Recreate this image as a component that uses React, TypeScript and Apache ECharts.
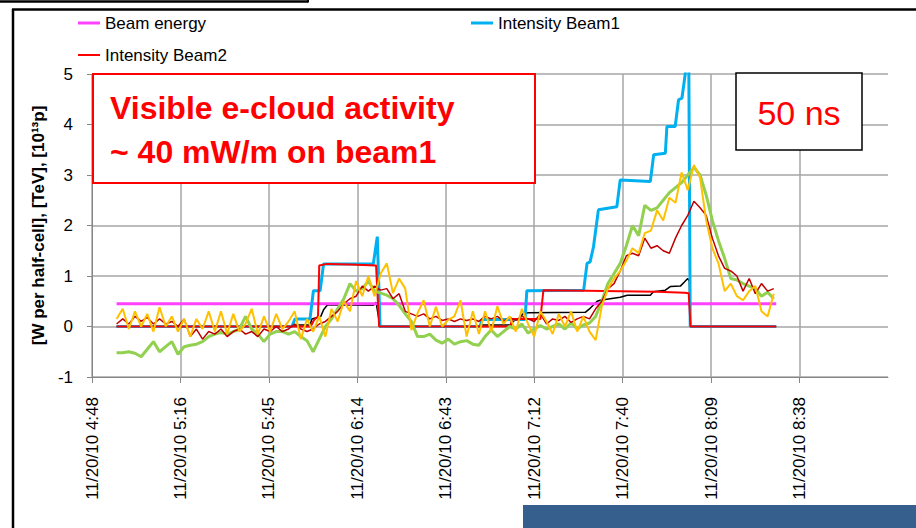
import React, { useEffect, useRef } from "react";
import * as echarts from "echarts";

// Time in minutes after midnight (11/20/10)
const times = [
  296, 298, 300, 302, 304, 306, 308, 310, 312, 314,
  316, 318, 320, 322, 324, 326, 328, 330, 332, 334,
  336, 338, 340, 342, 344, 346, 348, 350, 352, 354,
  356, 358, 360, 362, 364, 366, 368, 370, 372, 374,
  376, 378, 380, 382, 384, 386, 388, 390, 392, 394,
  396, 398, 400, 402, 404, 406, 408, 410, 412, 414,
  416, 418, 420, 422, 424, 426, 428, 430, 432, 434,
  436, 438, 440, 442, 444, 446, 448, 450, 452, 454,
  456, 458, 460, 462, 464, 466, 468, 470, 472, 474,
  476, 478, 480, 482, 484, 486, 488, 490, 492, 494,
  496, 498, 500, 502, 504, 506, 508, 510,
];

const greenValues = [
  -0.52, -0.52, -0.5, -0.53, -0.6, -0.45, -0.3, -0.5, -0.4, -0.3,
  -0.55, -0.4, -0.37, -0.35, -0.3, -0.2, -0.15, -0.12, -0.15, -0.1,
  -0.05, 0.2, -0.05, -0.15, -0.3, -0.15, -0.1, -0.1, -0.15, -0.1,
  -0.2, -0.28, -0.5, -0.25, 0.0, 0.15, 0.35, 0.55, 0.85, 0.7,
  0.75, 0.9, 0.7, 0.66, 0.62, 0.55, 0.42, 0.25, 0.1, -0.2,
  -0.2, -0.15, -0.27, -0.33, -0.25, -0.35, -0.3, -0.28, -0.35, -0.37,
  -0.2, -0.07, -0.2, -0.1, 0.0, -0.05, 0.05, -0.13, -0.05, 0.02,
  -0.05, 0.0, 0.05, -0.05, 0.07, -0.05, 0.03, 0.07, 0.2, 0.5,
  0.85, 1.05, 1.25, 1.6, 2.0, 1.8, 2.4, 2.3, 2.35, 2.5,
  2.65, 2.75, 2.85, 3.0, 3.15, 3.0, 2.6, 2.1, 1.7, 1.35,
  0.95, 0.92, 0.85, 0.8, 0.75, 0.6, 0.68, 0.55,
];

const yellowValues = [
  0.15, 0.35, -0.05, 0.3, 0.0, 0.25, -0.1, 0.38, 0.0, 0.2,
  -0.1, 0.15, -0.2, 0.15, -0.05, 0.3, -0.1, 0.3, -0.15, 0.25,
  -0.1, 0.05, 0.35, -0.15, 0.2, -0.1, 0.25, -0.05, 0.1, 0.3,
  -0.25, 0.15, -0.1, 0.2, -0.2, 0.35, 0.1, 0.5, 0.3, 0.9,
  0.6, 1.0, 0.6, 1.05, 1.25, 0.66, 0.95, 0.75, -0.07, 0.26,
  0.52, 0.0, 0.39, 0.0, 0.13, 0.2, 0.52, -0.2, 0.3, -0.15,
  0.3, -0.1, 0.4, 0.05, 0.2, -0.1, 0.35, 0.05, -0.2, 0.3,
  0.1, -0.15, 0.25, 0.0, 0.3, -0.1, 0.2, -0.1, -0.27, 0.4,
  0.75, 0.95, 1.1, 1.3, 1.55, 1.45, 1.85, 1.9, 2.3, 2.1,
  2.55, 2.45, 3.05, 2.7, 3.2, 2.95, 2.1, 1.55, 1.25, 0.7,
  0.85, 0.6, 0.52, 0.7, 0.8, 0.3, 0.2, 0.65,
];

const darkRedValues = [
  0.05, 0.15, 0.05, 0.2, 0.1, 0.18, 0.05, 0.15, 0.05, 0.1,
  0.0, 0.15, -0.2, -0.05, -0.25, -0.1, -0.15, -0.05, -0.2, -0.1,
  -0.05, -0.15, -0.1, -0.2, -0.05, -0.1, 0.0, -0.1, -0.05, 0.05,
  -0.05, -0.1, -0.05, 0.05, 0.1, 0.2, 0.3, 0.45, 0.55, 0.6,
  0.8, 0.7, 0.8, 0.72, 0.75, 0.55, 0.65, 0.3, 0.25, 0.2,
  0.25, 0.15, 0.2, 0.12, 0.15, 0.1, 0.15, 0.12, 0.15, 0.1,
  0.2, 0.15, 0.2, 0.1, 0.18, 0.12, 0.2, 0.15, 0.1, 0.25,
  0.05, 0.15, 0.12, 0.2, 0.08, 0.15, 0.2, 0.15, 0.35, 0.5,
  0.75, 0.85, 1.1, 1.4, 1.45, 1.4, 1.75, 1.55, 1.6, 1.5,
  1.45, 1.75, 2.0, 2.2, 2.48, 2.35, 2.2, 1.75, 1.4, 1.15,
  1.1, 1.0, 0.7, 0.95, 0.65, 0.85, 0.7, 0.75,
];

const beamEnergyTimes = [296, 510.8];
const beamEnergyValues = [0.45, 0.45];

const beam1Times = [
  296, 353.1, 354.1, 359.0, 360.1, 362.3, 363.4, 379.6, 380.9, 381.8,
  414.4, 415.0, 429.0, 429.6, 448.1, 449.2, 450.2, 451.3, 452.9, 458.9,
  460.0, 469.8, 470.9, 474.7, 475.2, 477.9, 479.0, 480.1, 481.2, 481.6,
  482.3, 482.8, 510.8,
];
const beam1Values = [
  0, 0, 0.15, 0.15, 0.71, 0.71, 1.24, 1.24, 1.78, 0,
  0, 0.14, 0.14, 0.71, 0.72, 1.25, 1.28, 1.58, 2.31, 2.37,
  2.9, 2.87, 3.4, 3.43, 3.96, 3.96, 4.49, 4.52, 5.01, 5.6,
  5.6, 0, 0,
];

const beam2Times = [
  296, 359.2, 360.3, 361.6, 362.0, 364.5, 372, 380.5, 381.5, 424.2,
  424.8, 434.0, 435.0, 449, 460, 472, 481, 482.3, 482.9, 510.8,
];
const beam2Values = [
  0, 0, 0.13, 0.2, 1.21, 1.24, 1.23, 1.21, 0, 0,
  0.15, 0.15, 0.72, 0.71, 0.7, 0.69, 0.67, 0.66, 0, 0,
];

const blackTimes = [
  296, 353.0, 353.5, 359.0, 359.6, 362.5, 363.4, 364.7, 379.6, 380.5,
  381.8, 414.0, 414.4, 424.5, 425.2, 426.8, 428.5, 430.0, 448.6, 450.2,
  452.5, 453.5, 460.0, 462.3, 469.8, 470.8, 474.7, 476.3, 479.6, 480.9,
  482.0, 482.5, 482.8, 510.8,
];
const blackValues = [
  0, 0, 0.03, 0.03, 0.15, 0.2, 0.33, 0.43, 0.42, 0.48,
  0, 0, 0.03, 0.03, 0.11, 0.15, 0.26, 0.27, 0.28, 0.36,
  0.5, 0.52, 0.58, 0.62, 0.62, 0.69, 0.72, 0.79, 0.8, 0.88,
  0.95, 0.9, 0, 0,
];

const yTicks = { min: -1, max: 5, interval: 1 };
const xTicks = { min: 288, max: 547.2, interval: 28.8 };

const FONT = '"Liberation Sans", Arial, sans-serif';

const pair = (ts: number[], vs: number[]) => ts.map((t, i) => [t, vs[i]]);

const fmtTime = (v: number) => {
  const r = Math.round(v * 10) / 10;
  const h = Math.floor(r / 60);
  const m = Math.floor(r - h * 60);
  return `11/20/10 ${h}:${String(m).padStart(2, "0")}`;
};

const legendBase = {
  icon: "rect",
  itemWidth: 22,
  itemHeight: 3,
  padding: 0,
  textStyle: { fontSize: 17, fontFamily: FONT, color: "#000", lineHeight: 18 },
};

export default function App() {
  const ref = useRef<HTMLDivElement>(null);
  useEffect(() => {
    const chart = echarts.init(ref.current!, null, { renderer: "svg" });
    const line = (name: string, data: number[][], color: string, width: number) => ({
      name,
      type: "line",
      data,
      color,
      showSymbol: false,
      symbol: "none",
      lineStyle: { color, width },
      emphasis: { disabled: true },
    });
    chart.setOption({
      animation: false,
      backgroundColor: "#fff",
      legend: [
        { ...legendBase, data: ["Beam energy"], left: 78, top: 14 },
        { ...legendBase, data: ["Intensity Beam1"], left: 471, top: 14 },
        { ...legendBase, itemHeight: 2, data: ["Intensity Beam2"], left: 78, top: 46 },
      ],
      grid: { left: 92, right: 28, top: 74, bottom: 151 },
      xAxis: {
        type: "value",
        ...xTicks,
        axisLine: { show: true, onZero: false, lineStyle: { color: "#868686", width: 1 } },
        axisTick: { show: true, length: 6, lineStyle: { color: "#868686" } },
        splitLine: { show: true, showMaxLine: false, lineStyle: { color: "#A6A6A6", width: 1.5 } },
        axisLabel: {
          rotate: 90,
          margin: 20,
          fontSize: 17,
          fontFamily: FONT,
          color: "#000",
          showMaxLabel: false,
          formatter: fmtTime,
        },
      },
      yAxis: {
        type: "value",
        ...yTicks,
        name: "[W per half-cell], [TeV], [10¹³p]",
        nameLocation: "middle",
        nameRotate: 90,
        nameGap: 45,
        nameTextStyle: { fontWeight: "bold", fontSize: 17, fontFamily: FONT, color: "#000" },
        axisLine: { show: true, lineStyle: { color: "#868686", width: 1 } },
        axisTick: { show: true, length: 5, lineStyle: { color: "#868686" } },
        splitLine: { show: true, lineStyle: { color: "#A6A6A6", width: 1.5 } },
        axisLabel: { fontSize: 17, fontFamily: FONT, color: "#000", margin: 19 },
      },
      series: [
        line("Heat load arc", pair(blackTimes, blackValues), "#000000", 1.5),
        line("Beam energy", pair(beamEnergyTimes, beamEnergyValues), "#FF40FF", 3),
        line("Intensity Beam1", pair(beam1Times, beam1Values), "#00B0F0", 3),
        line("Intensity Beam2", pair(beam2Times, beam2Values), "#FF0000", 2),
        line("Heat load B1", pair(times, greenValues), "#92D050", 3),
        line("Heat load B2", pair(times, darkRedValues), "#C00000", 1.5),
        line("Heat load B1 alt", pair(times, yellowValues), "#FFC000", 2),
      ],
      graphic: [
        { type: "line", z: 100, shape: { x1: 0, y1: 1.5, x2: 308, y2: 1.5 }, style: { stroke: "#000", lineWidth: 2.5 } },
        { type: "line", z: 100, shape: { x1: 308, y1: 0, x2: 308, y2: 2.5 }, style: { stroke: "#000", lineWidth: 2 } },
        { type: "line", z: 100, shape: { x1: 12, y1: 9.5, x2: 916, y2: 9.5 }, style: { stroke: "#000", lineWidth: 2.5 } },
        { type: "line", z: 100, shape: { x1: 13, y1: 9, x2: 13, y2: 528 }, style: { stroke: "#000", lineWidth: 2.5 } },
        {
          type: "rect", z: 100,
          shape: { x: 93, y: 74, width: 442, height: 109 },
          style: { fill: "#fff", stroke: "#FF0000", lineWidth: 2 },
        },
        {
          type: "text", z: 101, x: 110, y: 108,
          style: {
            text: "Visible e-cloud activity", fill: "#FF0000", fontSize: 32,
            fontWeight: "bold", fontFamily: FONT, verticalAlign: "middle",
          },
        },
        {
          type: "text", z: 101, x: 110, y: 152,
          style: {
            text: "~ 40 mW/m on beam1", fill: "#FF0000", fontSize: 32,
            fontWeight: "bold", fontFamily: FONT, verticalAlign: "middle",
          },
        },
        {
          type: "rect", z: 100,
          shape: { x: 736, y: 73, width: 126, height: 77 },
          style: { fill: "#fff", stroke: "#000", lineWidth: 1.5 },
        },
        {
          type: "text", z: 101, x: 799, y: 113,
          style: {
            text: "50 ns", fill: "#FF0000", fontSize: 34, fontFamily: FONT,
            align: "center", verticalAlign: "middle",
          },
        },
        {
          type: "rect", z: 100,
          shape: { x: 523, y: 505, width: 393, height: 23 },
          style: { fill: "#375F8E" },
        },
      ],
    });
    return () => chart.dispose();
  }, []);
  return (
    <div
      ref={ref}
      style={{ position: "fixed", left: 0, top: 0, width: 916, height: 528, background: "#fff" }}
    />
  );
}
